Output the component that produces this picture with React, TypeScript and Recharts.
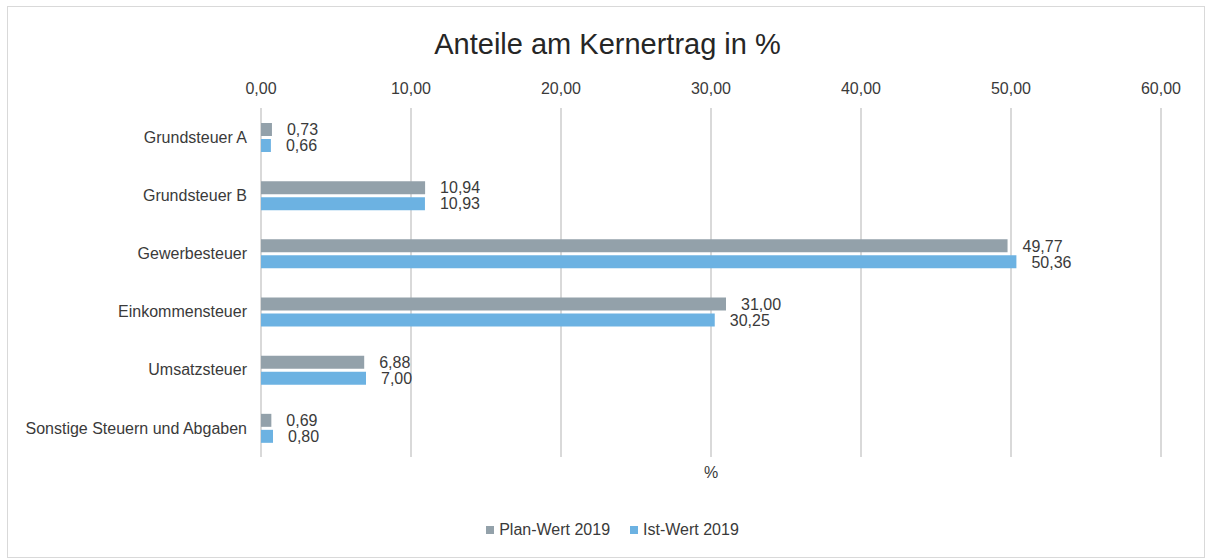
import React from 'react';
import { BarChart, Bar, XAxis, YAxis, CartesianGrid, LabelList } from 'recharts';

const categories = ['Grundsteuer A', 'Grundsteuer B', 'Gewerbesteuer', 'Einkommensteuer', 'Umsatzsteuer', 'Sonstige Steuern und Abgaben'];
const planWert = [0.73, 10.94, 49.77, 31.0, 6.88, 0.69];
const istWert = [0.66, 10.93, 50.36, 30.25, 7.0, 0.8];
const xTicks = [0, 10, 20, 30, 40, 50, 60];

const PLAN_COLOR = '#93a1aa';
const IST_COLOR = '#6cb2e2';
const TEXT = '#3a3a3a';
const FONT = '"Liberation Sans", Arial, sans-serif';
const FS = 16;

const data = categories.map((name, i) => ({ name, plan: planWert[i], ist: istWert[i] }));

const fmt = (v: any) => Number(v).toFixed(2).replace('.', ',');

const legendItems = [
  { label: 'Plan-Wert 2019', color: PLAN_COLOR },
  { label: 'Ist-Wert 2019', color: IST_COLOR },
];

export default function App() {
  return (
    <div style={{ position: 'absolute', left: 0, top: 0, width: 1205, height: 558, background: '#fff', fontFamily: FONT }}>
      <div style={{ position: 'absolute', left: 7, top: 6, width: 1196, height: 550, border: '1px solid #d9d9d9' }} />
      <div style={{ position: 'absolute', left: 0, top: 28, width: 1215, textAlign: 'center', fontSize: 29, color: '#262626' }}>
        Anteile am Kernertrag in %
      </div>
      <div style={{ position: 'absolute', left: 661, top: 464, width: 100, textAlign: 'center', fontSize: FS, color: TEXT }}>%</div>
      <div style={{ position: 'absolute', left: 0, top: 521, width: 1225, display: 'flex', justifyContent: 'center', gap: 20, fontSize: FS, color: TEXT }}>
        {legendItems.map(item => (
          <div key={item.label} style={{ display: 'flex', alignItems: 'center', gap: 5 }}>
            <div style={{ width: 8, height: 8, backgroundColor: item.color }} />
            <span>{item.label}</span>
          </div>
        ))}
      </div>
      <div style={{ position: 'absolute', left: 0, top: 0 }}>
        <BarChart
          width={1205}
          height={558}
          data={data}
          layout="vertical"
          margin={{ top: 71, right: 44, bottom: 101, left: 0 }}
          barSize={13}
          barGap={3}
        >
          <CartesianGrid horizontal={false} stroke="#d9d9d9" strokeWidth={2} />
          <XAxis
            type="number"
            orientation="top"
            domain={[0, 60]}
            ticks={xTicks}
            tickFormatter={fmt}
            axisLine={false}
            tickLine={false}
            height={37}
            tickMargin={8}
            tick={{ fill: TEXT, fontSize: FS, fontFamily: FONT }}
          />
          <YAxis
            type="category"
            dataKey="name"
            width={261}
            axisLine={false}
            tickLine={false}
            tickMargin={8}
            tick={{ fill: TEXT, fontSize: FS, fontFamily: FONT }}
          />
          <Bar dataKey="plan" name="Plan-Wert 2019" fill={PLAN_COLOR} isAnimationActive={false}>
            <LabelList dataKey="plan" position="right" offset={15} formatter={fmt} fill={TEXT} fontSize={FS} fontFamily={FONT} />
          </Bar>
          <Bar dataKey="ist" name="Ist-Wert 2019" fill={IST_COLOR} isAnimationActive={false}>
            <LabelList dataKey="ist" position="right" offset={15} formatter={fmt} fill={TEXT} fontSize={FS} fontFamily={FONT} />
          </Bar>
        </BarChart>
      </div>
    </div>
  );
}
